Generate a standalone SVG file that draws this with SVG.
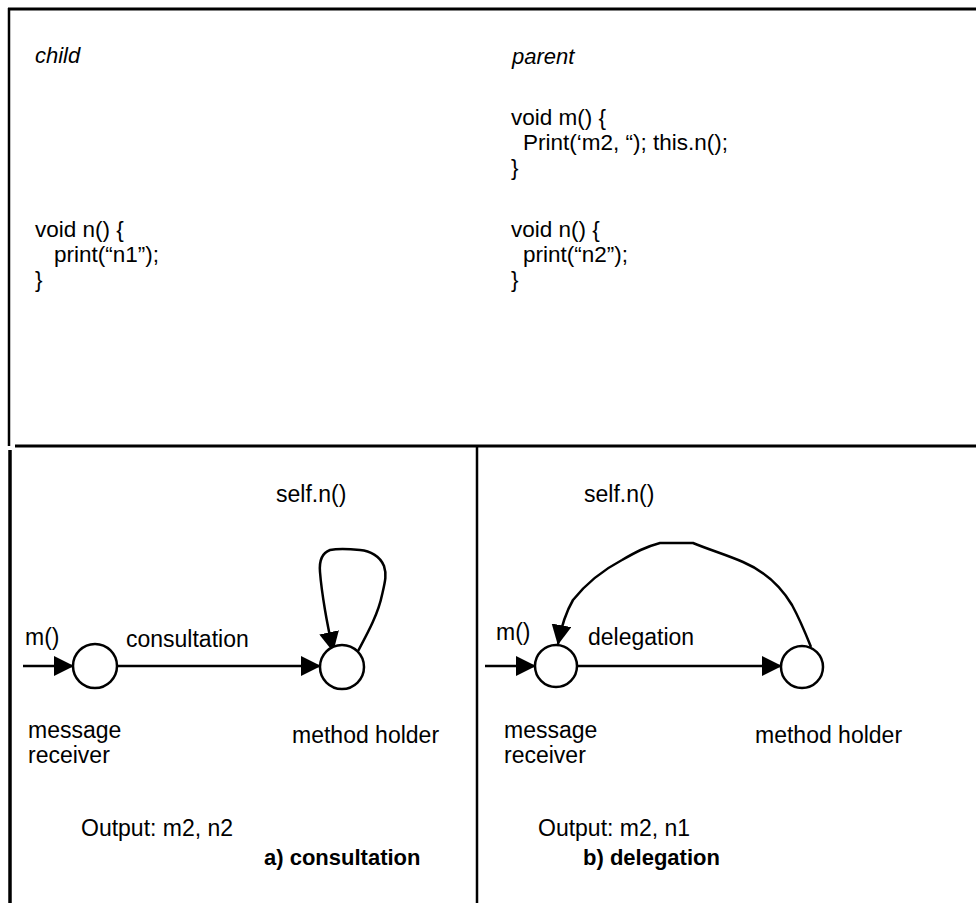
<svg xmlns="http://www.w3.org/2000/svg" width="976" height="903" viewBox="0 0 976 903">
  <style>
    text { font-family: "Liberation Sans", Arial, Helvetica, sans-serif; fill: #000; }
    .code { font-size: 22.5px; }
    .cap { font-size: 22px; font-style: italic; }
    .lbl { font-size: 23px; }
    .ttl { font-size: 22px; font-weight: bold; }
    .frame { stroke: #000; fill: none; }
    .edge { stroke: #000; stroke-width: 2.5; fill: none; stroke-linejoin: round; }
    .node { stroke: #000; stroke-width: 2.5; fill: #fff; }
  </style>
  <defs>
    <marker id="ah" markerWidth="20" markerHeight="20" viewBox="0 0 20 20" refX="19" refY="10" orient="auto" markerUnits="userSpaceOnUse">
      <path d="M0,0 L20,10 L0,20 z" fill="#000"/>
    </marker>
  </defs>

  <rect width="976" height="903" fill="#fff"/>

  <!-- frame lines -->
  <g id="frame">
    <line class="frame" x1="8" y1="9" x2="976" y2="9" stroke-width="3"/>
    <line class="frame" x1="9" y1="8" x2="9" y2="446" stroke-width="2.5"/>
    <line class="frame" x1="15" y1="446" x2="976" y2="446" stroke-width="3"/>
    <line class="frame" x1="10" y1="450" x2="10" y2="903" stroke-width="3.5"/>
    <line class="frame" x1="477" y1="446" x2="477" y2="903" stroke-width="2.5"/>
  </g>

  <!-- class code listings -->
  <g id="child-code">
    <text class="cap" x="35" y="63">child</text>
    <text class="code" x="35" y="237">void n() {</text>
    <text class="code" x="54" y="262">print(“n1”);</text>
    <text class="code" x="35" y="287">}</text>
  </g>
  <g id="parent-code">
    <text class="cap" x="512" y="64">parent</text>
    <text class="code" x="511" y="125">void m() {</text>
    <text class="code" x="523" y="150">Print(‘m2, “); this.n();</text>
    <text class="code" x="511" y="175">}</text>
    <text class="code" x="511" y="237">void n() {</text>
    <text class="code" x="523" y="262">print(“n2”);</text>
    <text class="code" x="511" y="287">}</text>
  </g>

  <!-- connectors -->
  <g id="connectors">
    <!-- a) consultation -->
    <line class="edge" x1="23" y1="666" x2="73" y2="666" marker-end="url(#ah)"/>
    <line class="edge" x1="117" y1="666" x2="320" y2="666" marker-end="url(#ah)"/>
    <path class="edge" d="M357,653 C366,636 378,615 382,595 C385,582 387,575 384,566 C380,556 370,551 360,550 C350,549 340,548 330,550 C322,553 319,560 320,572 C321,585 323,598 325,610 C327,622 329,632 333,651" marker-end="url(#ah)"/>
    <!-- b) delegation -->
    <line class="edge" x1="485" y1="666" x2="535" y2="666" marker-end="url(#ah)"/>
    <line class="edge" x1="577" y1="666" x2="781" y2="666" marker-end="url(#ah)"/>
    <path class="edge" d="M811,647 C805,632 798,616 792,605 C780,585 764,571 743,562 C727,555 710,550 693,543 L660,543 C645,547 636,552 622,560 C603,570 585,585 573,600 C566,612 561,628 558,644" marker-end="url(#ah)"/>
  </g>

  <!-- a) consultation -->
  <g id="a-receiver">
    <circle class="node" cx="95" cy="666" r="22"/>
  </g>
  <g id="a-holder">
    <circle class="node" cx="342" cy="667" r="22"/>
  </g>
  <g id="a-labels">
    <text class="lbl" x="276" y="502">self.n()</text>
    <text class="lbl" x="25" y="645">m()</text>
    <text class="lbl" x="126" y="647">consultation</text>
    <text class="lbl" x="28" y="738">message</text>
    <text class="lbl" x="28" y="763">receiver</text>
    <text class="lbl" x="292" y="743">method holder</text>
    <text class="lbl" x="81" y="836">Output: m2, n2</text>
    <text class="ttl" x="264" y="865">a) consultation</text>
  </g>

  <!-- b) delegation -->
  <g id="b-receiver">
    <circle class="node" cx="556" cy="666" r="21"/>
  </g>
  <g id="b-holder">
    <circle class="node" cx="802" cy="667" r="21"/>
  </g>
  <g id="b-labels">
    <text class="lbl" x="584" y="502">self.n()</text>
    <text class="lbl" x="496" y="640">m()</text>
    <text class="lbl" x="588" y="645">delegation</text>
    <text class="lbl" x="504" y="738">message</text>
    <text class="lbl" x="504" y="763">receiver</text>
    <text class="lbl" x="755" y="743">method holder</text>
    <text class="lbl" x="538" y="836">Output: m2, n1</text>
    <text class="ttl" x="583" y="865">b) delegation</text>
  </g>
</svg>
